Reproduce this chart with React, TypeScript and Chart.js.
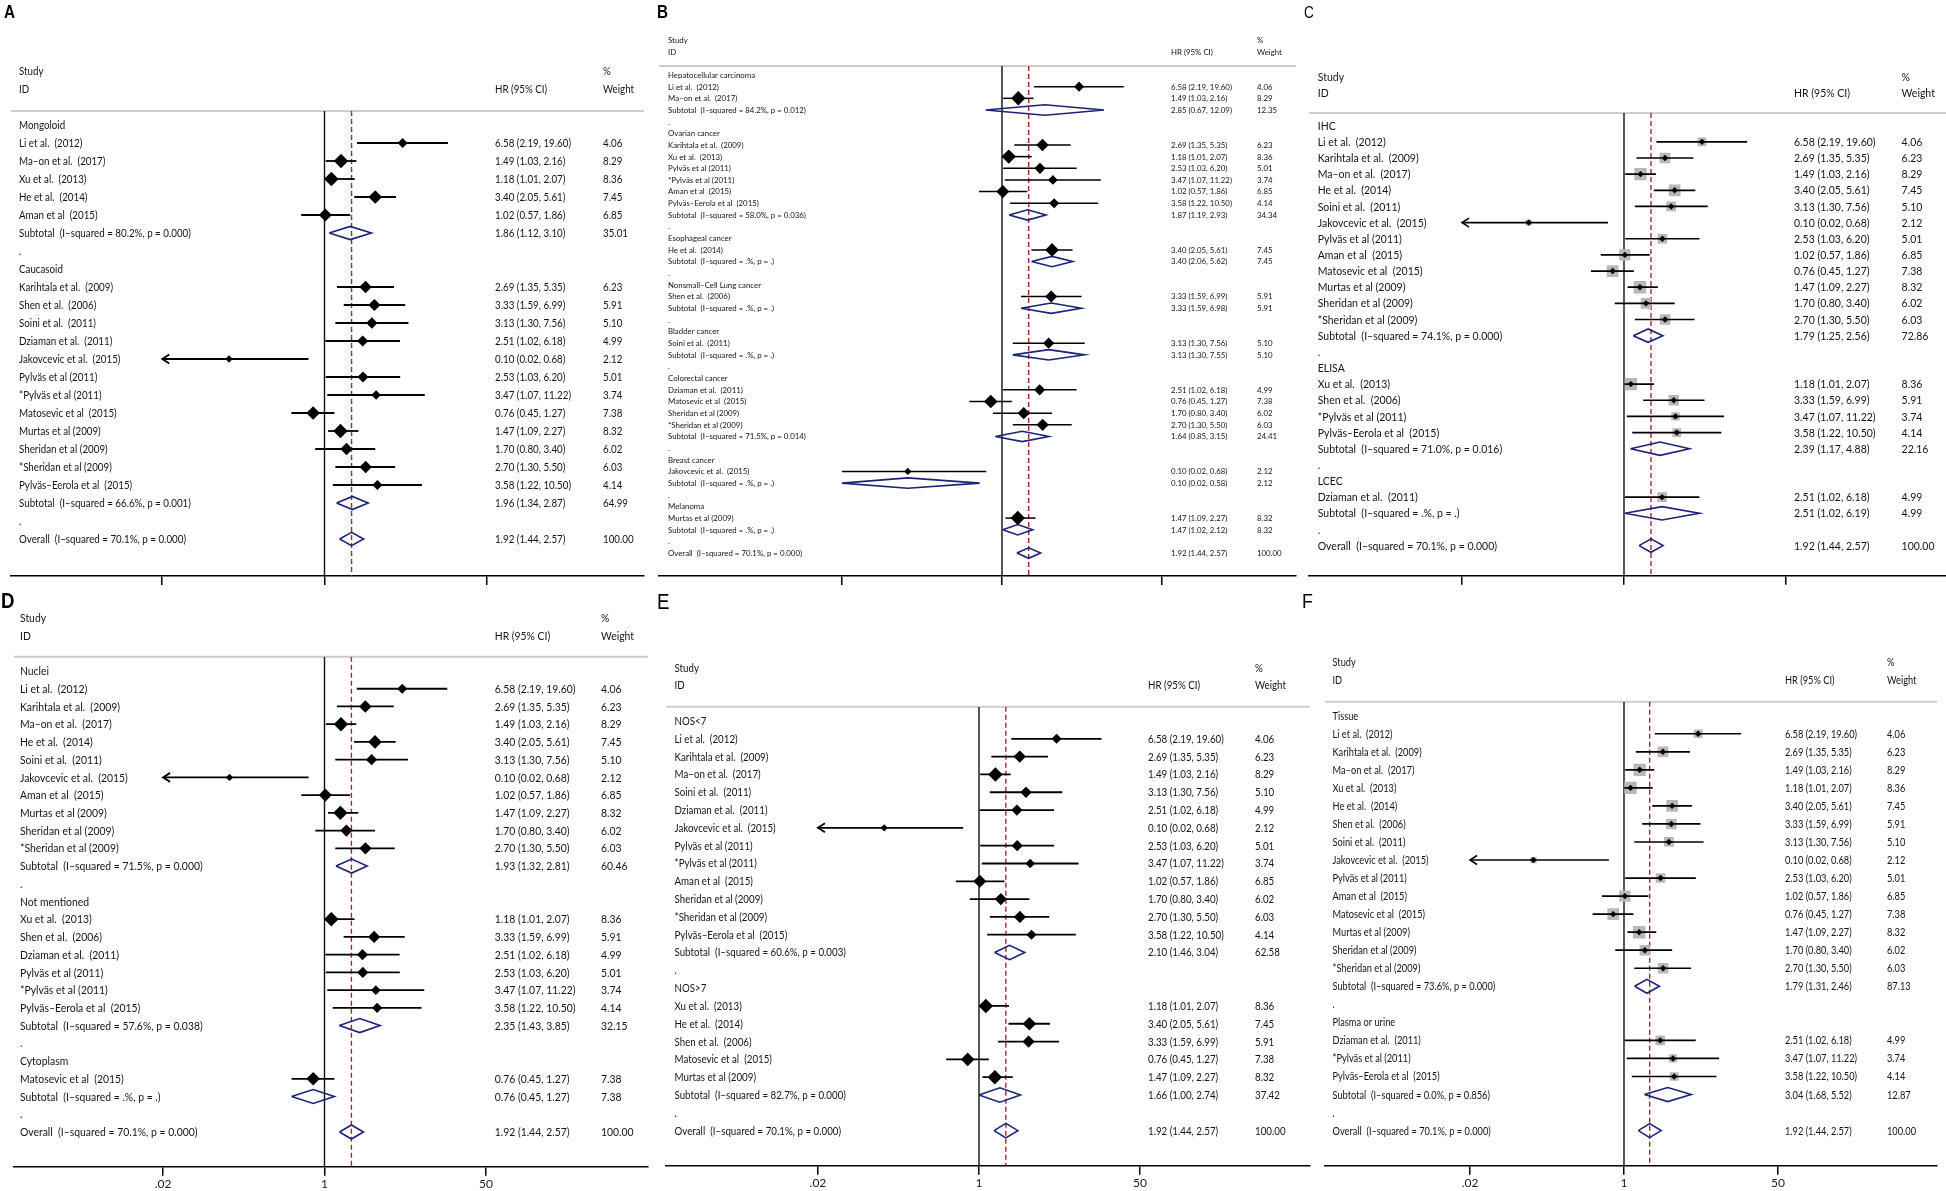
import React, { useEffect, useRef } from "react";
import { Chart, registerables } from "chart.js";

Chart.register(...registerables);

// ---------------- study-level data ----------------
const studyNames = [
  "Li et al.  (2012)",
  "Ma–on et al.  (2017)",
  "Xu et al.  (2013)",
  "He et al.  (2014)",
  "Aman et al  (2015)",
  "Karihtala et al.  (2009)",
  "Shen et al.  (2006)",
  "Soini et al.  (2011)",
  "Dziaman et al.  (2011)",
  "Jakovcevic et al.  (2015)",
  "Pylväs et al (2011)",
  "*Pylväs et al (2011)",
  "Matosevic et al  (2015)",
  "Murtas et al (2009)",
  "Sheridan et al (2009)",
  "*Sheridan et al (2009)",
  "Pylväs–Eerola et al  (2015)",
];
const studyHR = [6.58, 1.49, 1.18, 3.4, 1.02, 2.69, 3.33, 3.13, 2.51, 0.1, 2.53, 3.47, 0.76, 1.47, 1.7, 2.7, 3.58];
const studyLo = [2.19, 1.03, 1.01, 2.05, 0.57, 1.35, 1.59, 1.3, 1.02, 0.02, 1.03, 1.07, 0.45, 1.09, 0.8, 1.3, 1.22];
const studyHi = [19.6, 2.16, 2.07, 5.61, 1.86, 5.35, 6.99, 7.56, 6.18, 0.68, 6.2, 11.22, 1.27, 2.27, 3.4, 5.5, 10.5];
const studyWeight = [4.06, 8.29, 8.36, 7.45, 6.85, 6.23, 5.91, 5.1, 4.99, 2.12, 5.01, 3.74, 7.38, 8.32, 6.02, 6.03, 4.14];

const overallHR = 1.92;
const overallLo = 1.44;
const overallHi = 2.57;
const overallI2 = "70.1%";
const overallP = "0.000";

const tickValues = [0.02, 1, 50];
const tickLabels = [".02", "1", "50"];

// ---------------- panel A : ethnicity ----------------
const aGroups = ["Mongoloid", "Caucasoid"];
const aMembers = [[0, 1, 2, 3, 4], [5, 6, 7, 8, 9, 10, 11, 12, 13, 14, 15, 16]];
const aSubHR = [1.86, 1.96];
const aSubLo = [1.12, 1.34];
const aSubHi = [3.1, 2.87];
const aSubW = [35.01, 64.99];
const aSubI2 = ["80.2%", "66.6%"];
const aSubP = ["0.000", "0.001"];

// ---------------- panel B : cancer type ----------------
const bGroups = [
  "Hepatocellular carcinoma",
  "Ovarian cancer",
  "Esophageal cancer",
  "Nonsmall–Cell Lung cancer",
  "Bladder cancer",
  "Colorectal cancer",
  "Breast cancer",
  "Melanoma",
];
const bMembers = [[0, 1], [5, 2, 10, 11, 4, 16], [3], [6], [7], [8, 12, 14, 15], [9], [13]];
const bSubHR = [2.85, 1.87, 3.4, 3.33, 3.13, 1.64, 0.1, 1.47];
const bSubLo = [0.67, 1.19, 2.06, 1.59, 1.3, 0.85, 0.02, 1.02];
const bSubHi = [12.09, 2.93, 5.62, 6.98, 7.55, 3.15, 0.58, 2.12];
const bSubW = [12.35, 34.34, 7.45, 5.91, 5.1, 24.41, 2.12, 8.32];
const bSubI2 = ["84.2%", "58.0%", ".%", ".%", ".%", "71.5%", ".%", ".%"];
const bSubP = ["0.012", "0.036", ".", ".", ".", "0.014", ".", "."];

// ---------------- panel C : detection method ----------------
const cGroups = ["IHC", "ELISA", "LCEC"];
const cMembers = [[0, 5, 1, 3, 7, 9, 10, 4, 12, 13, 14, 15], [2, 6, 11, 16], [8]];
const cSubHR = [1.79, 2.39, 2.51];
const cSubLo = [1.25, 1.17, 1.02];
const cSubHi = [2.56, 4.88, 6.19];
const cSubW = [72.86, 22.16, 4.99];
const cSubI2 = ["74.1%", "71.0%", ".%"];
const cSubP = ["0.000", "0.016", "."];

// ---------------- panel D : location ----------------
const dGroups = ["Nuclei", "Not mentioned", "Cytoplasm"];
const dMembers = [[0, 5, 1, 3, 7, 9, 4, 13, 14, 15], [2, 6, 8, 10, 11, 16], [12]];
const dSubHR = [1.93, 2.35, 0.76];
const dSubLo = [1.32, 1.43, 0.45];
const dSubHi = [2.81, 3.85, 1.27];
const dSubW = [60.46, 32.15, 7.38];
const dSubI2 = ["71.5%", "57.6%", ".%"];
const dSubP = ["0.000", "0.038", "."];

// ---------------- panel E : NOS ----------------
const eGroups = ["NOS<7", "NOS>7"];
const eMembers = [[0, 5, 1, 7, 8, 9, 10, 11, 4, 14, 15, 16], [2, 3, 6, 12, 13]];
const eSubHR = [2.1, 1.66];
const eSubLo = [1.46, 1.0];
const eSubHi = [3.04, 2.74];
const eSubW = [62.58, 37.42];
const eSubI2 = ["60.6%", "82.7%"];
const eSubP = ["0.003", "0.000"];

// ---------------- panel F : sample ----------------
const fGroups = ["Tissue", "Plasma or urine"];
const fMembers = [[0, 5, 1, 2, 3, 6, 7, 9, 10, 4, 12, 13, 14, 15], [8, 11, 16]];
const fSubHR = [1.79, 3.04];
const fSubLo = [1.31, 1.68];
const fSubHi = [2.46, 5.52];
const fSubW = [87.13, 12.87];
const fSubI2 = ["73.6%", "0.0%"];
const fSubP = ["0.000", "0.856"];

type Row = { kind: string; label: string; hr?: number; lo?: number; hi?: number; w?: number };

function buildRows(
  groups: string[], members: number[][], sHR: number[], sLo: number[], sHi: number[],
  sW: number[], sI2: string[], sP: string[]
): Row[] {
  const rows: Row[] = [];
  groups.forEach((g, gi) => {
    rows.push({ kind: "group", label: g });
    members[gi].forEach((si) =>
      rows.push({ kind: "study", label: studyNames[si], hr: studyHR[si], lo: studyLo[si], hi: studyHi[si], w: studyWeight[si] })
    );
    rows.push({ kind: "sub", label: `Subtotal  (I–squared = ${sI2[gi]}, p = ${sP[gi]})`, hr: sHR[gi], lo: sLo[gi], hi: sHi[gi], w: sW[gi] });
    rows.push({ kind: "blank", label: "." });
  });
  rows.push({ kind: "overall", label: `Overall  (I–squared = ${overallI2}, p = ${overallP})`, hr: overallHR, lo: overallLo, hi: overallHi, w: 100 });
  return rows;
}

const panelRows = [
  buildRows(aGroups, aMembers, aSubHR, aSubLo, aSubHi, aSubW, aSubI2, aSubP),
  buildRows(bGroups, bMembers, bSubHR, bSubLo, bSubHi, bSubW, bSubI2, bSubP),
  buildRows(cGroups, cMembers, cSubHR, cSubLo, cSubHi, cSubW, cSubI2, cSubP),
  buildRows(dGroups, dMembers, dSubHR, dSubLo, dSubHi, dSubW, dSubI2, dSubP),
  buildRows(eGroups, eMembers, eSubHR, eSubLo, eSubHi, eSubW, eSubI2, eSubP),
  buildRows(fGroups, fMembers, fSubHR, fSubLo, fSubHi, fSubW, fSubI2, fSubP),
];

// ---------------- layout (positions / sizes / styles) ----------------
type Layout = any;
const layouts: Layout[] = [
  { id: "A", cx: 0, cy: 0, w: 652, h: 589, left: 11, right: 644, top: 111, bottom: 576, x1: 324.5, dpd: 95.5,
    y0: 125, dy: 18, labelX: 19, hrX: 495, wX: 603, studyY: 71, idY: 89, font: 11, hrW: 76, dH: 6.6, ciW: 1.8,
    marker: "diamond", arrows: true, letter: { x: 4, y: 11.5, size: 18, bold: true } },
  { id: "B", cx: 652, cy: 0, w: 648, h: 589, left: 7, right: 644, top: 66, bottom: 576, x1: 350, dpd: 94.2,
    y0: 75, dy: 11.66, labelX: 16, hrX: 519, wX: 605, studyY: 40, idY: 52, font: 8, hrW: 61, dH: 5.2, ciW: 1.5,
    marker: "diamond", arrows: false, letter: { x: 5, y: 11.5, size: 18, bold: true } },
  { id: "C", cx: 1300, cy: 0, w: 646, h: 589, left: 9, right: 646, top: 113, bottom: 575.7, x1: 324, dpd: 95.3,
    y0: 125.7, dy: 16.15, labelX: 17.7, hrX: 494, wX: 601.6, studyY: 77, idY: 93, font: 11.5, hrW: 81.6, dH: 6.7, ciW: 1.7,
    marker: "square", arrows: true, letter: { x: 4, y: 12.5, size: 16, bold: false } },
  { id: "D", cx: 0, cy: 589, w: 652, h: 602, left: 14, right: 648, top: 67.7, bottom: 577.7, x1: 324.5, dpd: 95,
    y0: 82, dy: 17.73, labelX: 20, hrX: 494.7, wX: 601, studyY: 28.7, idY: 46.7, font: 11.5, hrW: 80.8, dH: 7, ciW: 1.8,
    marker: "diamond", arrows: true, letter: { x: 1, y: 11, size: 22, bold: true } },
  { id: "E", cx: 652, cy: 589, w: 664, h: 602, left: 14, right: 658, top: 117.7, bottom: 576.7, x1: 327, dpd: 94.8,
    y0: 132, dy: 17.81, labelX: 22.5, hrX: 496, wX: 603, studyY: 78.7, idY: 96, font: 11, hrW: 75.8, dH: 7.2, ciW: 1.8,
    marker: "diamond", arrows: true, letter: { x: 5, y: 12, size: 22, bold: false } },
  { id: "F", cx: 1300, cy: 589, w: 646, h: 602, left: 25, right: 637, top: 112.7, bottom: 576.7, x1: 324, dpd: 90.6,
    y0: 126.7, dy: 18.04, labelX: 32.5, hrX: 485, wX: 587, studyY: 72.7, idY: 90.7, font: 11, hrW: 72, dH: 7, ciW: 1.7,
    marker: "square", arrows: true, letter: { x: 2, y: 11.5, size: 21, bold: false } },
];

const f2 = (v: number) => v.toFixed(2);

function textPlugin(rows: Row[], L: Layout) {
  return {
    id: "forestText" + L.id,
    beforeDatasetsDraw(chart: any) {
      const ctx = chart.ctx;
      const a = chart.chartArea;
      ctx.save();
      ctx.strokeStyle = "#cdcdcd";
      ctx.lineWidth = 2;
      ctx.beginPath();
      ctx.moveTo(a.left, a.top);
      ctx.lineTo(a.right, a.top);
      ctx.stroke();
      ctx.restore();
    },
    afterDraw(chart: any) {
      const ctx = chart.ctx;
      const ys = chart.scales.y;
      ctx.save();
      ctx.font = `${L.font}px Lato, "Liberation Sans", sans-serif`;
      const hs = L.hrW / ctx.measureText("6.58 (2.19, 19.60)").width;
      ctx.fillStyle = "#141414";
      ctx.textAlign = "left";
      ctx.textBaseline = "alphabetic";
      const put = (s: string, x: number, y: number) => {
        ctx.save();
        ctx.translate(x, y + 0.36 * L.font);
        ctx.scale(hs, 1);
        ctx.fillText(s, 0, 0);
        ctx.restore();
      };
      put("Study", L.labelX, L.studyY);
      put("ID", L.labelX, L.idY);
      put("HR (95% CI)", L.hrX, L.idY);
      put("%", L.wX, L.studyY);
      put("Weight", L.wX, L.idY);
      rows.forEach((r, i) => {
        const y = ys.getPixelForValue(i);
        put(r.label, L.labelX, y);
        if (r.hr != null) {
          put(`${f2(r.hr)} (${f2(r.lo as number)}, ${f2(r.hi as number)})`, L.hrX, y);
          put(f2(r.w as number), L.wX, y);
        }
      });
      const lt = L.letter;
      ctx.font = `${lt.bold ? "bold " : ""}${lt.size}px "Liberation Sans", Arial, sans-serif`;
      ctx.fillStyle = "#000";
      ctx.save();
      ctx.translate(lt.x, lt.y + 0.36 * lt.size);
      ctx.scale(0.85, 1);
      ctx.fillText(L.id, 0, 0);
      ctx.restore();
      ctx.restore();
    },
  };
}

function makeChart(canvas: HTMLCanvasElement, rows: Row[], L: Layout) {
  const yMin = (L.top - L.y0) / L.dy;
  const yMax = (L.bottom - L.y0) / L.dy;
  const xMin = Math.pow(10, -(L.x1 - L.left) / L.dpd);
  const xMax = Math.pow(10, (L.right - L.x1) / L.dpd);
  const axisH = L.h - L.bottom;
  const datasets: any[] = [];
  const line = (pts: any[], color: string, width: number, order: number, dash: number[] = []) => ({
    data: pts, showLine: true, borderColor: color, backgroundColor: color, borderWidth: width,
    borderDash: dash, pointRadius: 0, pointHoverRadius: 0, fill: false, tension: 0, order,
  });
  datasets.push(line([{ x: 1, y: yMin }, { x: 1, y: yMax }], "#111", 1.4, 20));
  datasets.push(line([{ x: overallHR, y: yMin }, { x: overallHR, y: yMax }], "#a3262b", 1.4, 19, [5, 3]));

  const markPts: any[] = [];
  const markW: number[] = [];
  rows.forEach((r, i) => {
    if (r.kind === "study") {
      const lo = r.lo as number;
      const clipped = L.arrows && lo <= tickValues[0];
      const lo2 = clipped ? tickValues[0] : lo;
      datasets.push(line([{ x: lo2, y: i }, { x: r.hi, y: i }], "#000", L.ciW, 5));
      if (clipped) {
        const ax = lo2 * Math.pow(10, 7 / L.dpd);
        const ay = 4.5 / L.dy;
        datasets.push(line([{ x: ax, y: i - ay }, { x: lo2, y: i }, { x: ax, y: i + ay }], "#000", L.ciW, 5));
      }
      markPts.push({ x: r.hr, y: i });
      markW.push(r.w as number);
    } else if (r.kind === "sub" || r.kind === "overall") {
      const h = L.dH / L.dy;
      datasets.push(
        line(
          [{ x: r.lo, y: i }, { x: r.hr, y: i - h }, { x: r.hi, y: i }, { x: r.hr, y: i + h }, { x: r.lo, y: i }],
          "#1b2378", 1.6, 8
        )
      );
    }
  });
  if (L.marker === "diamond") {
    datasets.push({
      data: markPts, pointStyle: "rectRot", pointRadius: markW.map((w) => 2.5 * Math.sqrt(w)),
      pointBackgroundColor: "#000", backgroundColor: "#000", pointBorderWidth: 0, borderWidth: 0, order: 1,
    });
  } else {
    datasets.push({
      data: markPts, pointStyle: "rect", pointRadius: markW.map((w) => (4.3 * Math.sqrt(w)) / Math.SQRT2),
      pointBackgroundColor: "#b8b8b8", backgroundColor: "#b8b8b8", pointBorderWidth: 0, borderWidth: 0, order: 7,
    });
    datasets.push({
      data: markPts, pointStyle: "rectRot", pointRadius: 3.2,
      pointBackgroundColor: "#000", backgroundColor: "#000", pointBorderWidth: 0, borderWidth: 0, order: 1,
    });
  }

  return new Chart(canvas, {
    type: "scatter",
    data: { datasets },
    options: {
      animation: false,
      responsive: false,
      devicePixelRatio: 1,
      events: [],
      layout: {
        autoPadding: false,
        padding: { left: L.left, right: L.w - L.right, top: L.top, bottom: 0 },
      },
      plugins: { legend: { display: false }, tooltip: { enabled: false } },
      scales: {
        x: {
          type: "logarithmic",
          min: xMin,
          max: xMax,
          bounds: "data",
          position: "bottom",
          afterFit: (s: any) => { s.height = axisH; },
          afterBuildTicks: (s: any) => { s.ticks = tickValues.map((v) => ({ value: v })); },
          ticks: {
            autoSkip: false, maxRotation: 0, minRotation: 0, padding: 1, color: "#1a1a1a",
            font: { family: "Lato", size: 12 },
            callback: (_v: any, i: number) => tickLabels[i],
          },
          grid: { drawOnChartArea: false, drawTicks: true, tickLength: 9, color: "#000", lineWidth: 1.5 },
          border: { display: true, color: "#000", width: 1.5 },
        },
        y: { type: "linear", display: false, reverse: true, min: yMin, max: yMax },
      },
    } as any,
    plugins: [textPlugin(rows, L)],
  });
}

function ForestPanel({ layout, rows }: { layout: Layout; rows: Row[] }) {
  const ref = useRef<HTMLCanvasElement>(null);
  useEffect(() => {
    if (!ref.current) return;
    const c = makeChart(ref.current, rows, layout);
    return () => c.destroy();
  }, []);
  return (
    <canvas
      ref={ref}
      width={layout.w}
      height={layout.h}
      style={{ position: "absolute", left: layout.cx, top: layout.cy, width: layout.w, height: layout.h }}
    />
  );
}

export default function App() {
  return (
    <div style={{ position: "absolute", left: 0, top: 0, width: 1946, height: 1191, background: "#fff", overflow: "hidden" }}>
      {layouts.map((L, i) => (
        <ForestPanel key={L.id} layout={L} rows={panelRows[i]} />
      ))}
    </div>
  );
}
